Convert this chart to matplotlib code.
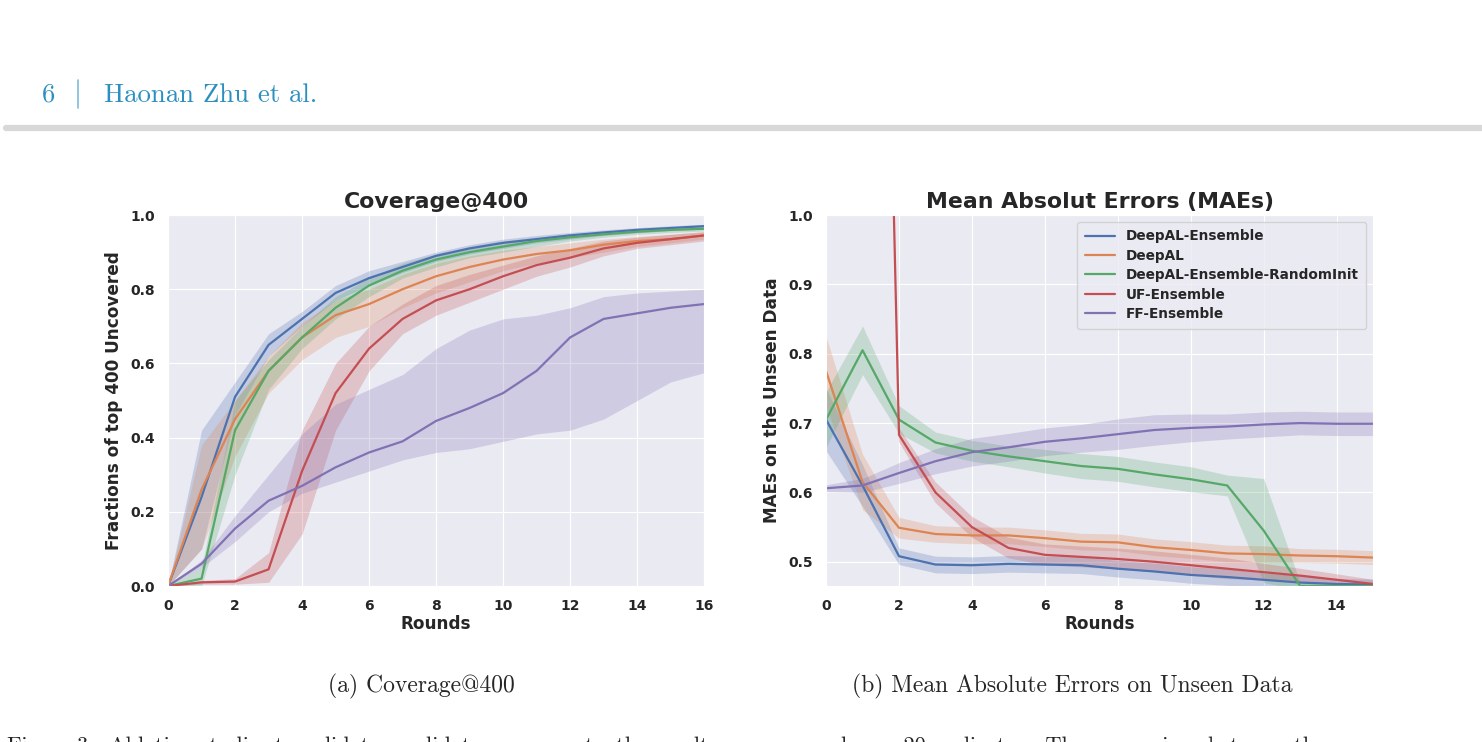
import numpy as np
import matplotlib
matplotlib.use('Agg')
import matplotlib.pyplot as plt
import seaborn as sns

# --- data ---
names = ['DeepAL-Ensemble', 'DeepAL', 'DeepAL-Ensemble-RandomInit', 'UF-Ensemble', 'FF-Ensemble']
colors = ['#4C72B0', '#DD8452', '#55A868', '#C44E52', '#8172B3']

rounds_cov = np.arange(17)
cov_mean = [
    [0.0, 0.24, 0.51, 0.65, 0.72, 0.79, 0.83, 0.86, 0.89, 0.91, 0.925, 0.935, 0.945, 0.953, 0.96, 0.965, 0.97],
    [0.0, 0.26, 0.45, 0.58, 0.67, 0.73, 0.76, 0.80, 0.835, 0.86, 0.88, 0.895, 0.905, 0.92, 0.93, 0.935, 0.945],
    [0.0, 0.02, 0.42, 0.58, 0.67, 0.75, 0.81, 0.85, 0.88, 0.90, 0.915, 0.93, 0.94, 0.948, 0.955, 0.96, 0.963],
    [0.0, 0.01, 0.012, 0.045, 0.31, 0.52, 0.64, 0.72, 0.77, 0.80, 0.835, 0.865, 0.885, 0.91, 0.925, 0.935, 0.945],
    [0.0, 0.06, 0.155, 0.23, 0.27, 0.32, 0.36, 0.39, 0.445, 0.48, 0.52, 0.58, 0.67, 0.72, 0.735, 0.75, 0.76],
]
cov_low = [
    [0.0, 0.10, 0.46, 0.62, 0.70, 0.77, 0.81, 0.845, 0.875, 0.895, 0.91, 0.925, 0.935, 0.945, 0.952, 0.958, 0.962],
    [0.0, 0.10, 0.35, 0.52, 0.61, 0.67, 0.70, 0.75, 0.79, 0.82, 0.85, 0.87, 0.885, 0.90, 0.915, 0.925, 0.935],
    [0.0, 0.0, 0.30, 0.53, 0.64, 0.72, 0.78, 0.83, 0.86, 0.885, 0.90, 0.915, 0.93, 0.94, 0.948, 0.953, 0.957],
    [0.0, 0.005, 0.005, 0.01, 0.14, 0.42, 0.58, 0.68, 0.73, 0.765, 0.80, 0.835, 0.86, 0.89, 0.91, 0.92, 0.93],
    [0.0, 0.05, 0.12, 0.20, 0.25, 0.28, 0.31, 0.34, 0.36, 0.37, 0.39, 0.41, 0.42, 0.45, 0.50, 0.55, 0.575],
]
cov_high = [
    [0.0, 0.42, 0.55, 0.68, 0.74, 0.81, 0.85, 0.875, 0.90, 0.92, 0.935, 0.945, 0.953, 0.96, 0.966, 0.971, 0.975],
    [0.0, 0.38, 0.50, 0.62, 0.71, 0.77, 0.80, 0.84, 0.87, 0.89, 0.905, 0.915, 0.925, 0.935, 0.942, 0.948, 0.955],
    [0.0, 0.05, 0.50, 0.61, 0.70, 0.78, 0.83, 0.87, 0.895, 0.915, 0.93, 0.94, 0.95, 0.955, 0.962, 0.966, 0.969],
    [0.0, 0.015, 0.02, 0.09, 0.42, 0.60, 0.70, 0.76, 0.81, 0.84, 0.865, 0.89, 0.91, 0.93, 0.94, 0.948, 0.955],
    [0.0, 0.07, 0.19, 0.30, 0.41, 0.49, 0.53, 0.57, 0.64, 0.69, 0.72, 0.73, 0.75, 0.78, 0.79, 0.795, 0.80],
]

rounds_mae = np.arange(16)
mae_mean = [
    [0.705, 0.61, 0.508, 0.496, 0.495, 0.497, 0.496, 0.495, 0.49, 0.486, 0.481, 0.478, 0.474, 0.47, 0.468, 0.467],
    [0.775, 0.615, 0.549, 0.54, 0.538, 0.538, 0.534, 0.529, 0.528, 0.521, 0.517, 0.512, 0.511, 0.509, 0.508, 0.506],
    [0.705, 0.805, 0.705, 0.672, 0.66, 0.652, 0.645, 0.638, 0.634, 0.626, 0.619, 0.61, 0.545, 0.465, 0.465, 0.465],
    [3.2, 2.95, 0.683, 0.60, 0.55, 0.52, 0.51, 0.507, 0.504, 0.50, 0.495, 0.49, 0.485, 0.48, 0.474, 0.468],
    [0.606, 0.61, 0.628, 0.645, 0.658, 0.665, 0.673, 0.678, 0.684, 0.69, 0.693, 0.695, 0.698, 0.70, 0.699, 0.699],
]
mae_spread = [
    [0.045, 0.03, 0.012, 0.012, 0.012, 0.012, 0.012, 0.012, 0.012, 0.012, 0.012, 0.012, 0.01, 0.01, 0.008, 0.008],
    [0.05, 0.04, 0.015, 0.012, 0.012, 0.012, 0.012, 0.012, 0.012, 0.012, 0.012, 0.012, 0.012, 0.01, 0.01, 0.01],
    [0.04, 0.035, 0.02, 0.015, 0.015, 0.015, 0.017, 0.018, 0.018, 0.018, 0.018, 0.015, 0.075, 0.005, 0.005, 0.005],
    [0.1, 0.1, 0.01, 0.015, 0.015, 0.015, 0.015, 0.015, 0.015, 0.015, 0.015, 0.015, 0.012, 0.01, 0.008, 0.006],
    [0.005, 0.01, 0.015, 0.018, 0.02, 0.02, 0.02, 0.02, 0.022, 0.022, 0.02, 0.018, 0.018, 0.017, 0.017, 0.017],
]

sns.set_style('darkgrid')
plt.rcParams['font.family'] = ['DejaVu Sans']
plt.rcParams['font.weight'] = 'bold'

fig = plt.figure(figsize=(14.82, 7.42), dpi=100)

# page decorations
serif = ['cmr10', 'DejaVu Serif']
fig.text(0.028, 0.872, '6', color='#2b8fc0', fontsize=19, family=serif, va='center')
fig.add_artist(plt.Line2D([0.0523, 0.0523], [0.854, 0.892], color='#7fbddc', lw=1.2))
fig.text(0.0705, 0.872, 'Haonan Zhu et al.', color='#2b8fc0', fontsize=19.3, family=serif, va='center')
fig.add_artist(plt.Line2D([0.004, 1.0], [0.827, 0.827], color='#d8d8d8', lw=4.5))

ax1 = fig.add_axes([0.1134, 0.2102, 0.3617, 0.5])
for i in range(5):
    ax1.fill_between(rounds_cov, cov_low[i], cov_high[i], color=colors[i], alpha=0.25, lw=0)
    ax1.plot(rounds_cov, cov_mean[i], color=colors[i], lw=1.6, label=names[i])
ax1.set_xlim(0, 16)
ax1.set_ylim(0, 1.0)
ax1.set_xticks(range(0, 17, 2))
ax1.set_yticks([0.0, 0.2, 0.4, 0.6, 0.8, 1.0])
ax1.set_title('Coverage@400', fontsize=15.8, fontweight='bold', pad=5)
ax1.set_xlabel('Rounds', fontsize=12.2, fontweight='bold', labelpad=1)
ax1.set_ylabel('Fractions of top 400 Uncovered', fontsize=12.2, fontweight='bold', labelpad=5)

ax2 = fig.add_axes([0.5574, 0.2102, 0.3691, 0.5])
for i in range(5):
    m = np.array(mae_mean[i])
    s = np.array(mae_spread[i])
    ax2.fill_between(rounds_mae, m - s, m + s, color=colors[i], alpha=0.25, lw=0)
    ax2.plot(rounds_mae, m, color=colors[i], lw=1.6, label=names[i])
ax2.set_xlim(0, 15)
ax2.set_ylim(0.465, 1.0)
ax2.set_xticks(range(0, 15, 2))
ax2.set_yticks([0.5, 0.6, 0.7, 0.8, 0.9, 1.0])
ax2.set_title('Mean Absolut Errors (MAEs)', fontsize=15.8, fontweight='bold', pad=5)
ax2.set_xlabel('Rounds', fontsize=12.2, fontweight='bold', labelpad=1)
ax2.set_ylabel('MAEs on the Unseen Data', fontsize=12.2, fontweight='bold', labelpad=5)
leg = ax2.legend(loc='upper right', prop={'weight': 'bold', 'size': 9.8},
                 frameon=True, borderpad=0.55, labelspacing=0.4, handlelength=2.2)

for ax in (ax1, ax2):
    ax.tick_params(axis='both', labelsize=10, pad=6)
    for lab in ax.get_xticklabels() + ax.get_yticklabels():
        lab.set_fontweight('bold')

# captions
fig.text(0.284, 0.075, '(a) Coverage@400', fontsize=17, family=serif, ha='center', va='center')
fig.text(0.7233, 0.075, '(b) Mean Absolute Errors on Unseen Data', fontsize=17,
         family=serif, ha='center', va='center')
fig.text(0.005, -0.006,
         'Figure 3:  Ablation studies to validate candidate components, the results are averaged over 20 replicates.  The comparison between the',
         fontsize=16, family=serif, ha='left', va='center')

fig.savefig('out.png', dpi=100)
